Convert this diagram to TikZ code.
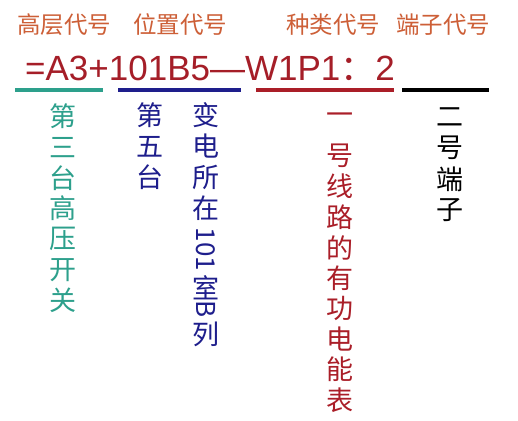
\documentclass[tikz,border=0pt]{standalone}
\usepackage{fontspec}
\setmainfont{Liberation Sans}
\newfontfamily\cjk{Noto Sans CJK SC}
\definecolor{hdr}{RGB}{205,95,55}
\definecolor{frm}{RGB}{165,30,40}
\definecolor{tealc}{RGB}{45,160,140}
\definecolor{navyc}{RGB}{30,30,140}
\definecolor{redc}{RGB}{170,30,40}
\tikzset{
  hdrtxt/.style={text=hdr, font=\cjk\fontsize{23.5}{26}\selectfont, inner sep=0pt},
  vch/.style={font=\cjk\fontsize{27}{30}\selectfont, inner sep=0pt},
  uline/.style={line width=3.5pt},
}
\begin{document}
\begin{tikzpicture}[x=1pt,y=-1pt]
\useasboundingbox[fill=white] (0,0) rectangle (518,420);
% headers
\node[hdrtxt] (h1) at (64,25) {高层代号};
\node[hdrtxt] (h2) at (180,25) {位置代号};
\node[hdrtxt] (h3) at (333,25) {种类代号};
\node[hdrtxt] (h4) at (443,25) {端子代号};
% formula
\node[anchor=base west, inner sep=0pt, text=frm, font=\fontsize{35}{37}\selectfont] (f) at (25,80) {=A3+101B5—W1P1{\cjk ：}2};
% underlines
\coordinate (u1a) at (15,90); \coordinate (u1b) at (103,90);
\coordinate (u2a) at (118,90); \coordinate (u2b) at (241,90);
\coordinate (u3a) at (256,90); \coordinate (u3b) at (394,90);
\coordinate (u4a) at (402,90); \coordinate (u4b) at (489,90);
\draw[uline, tealc] (u1a) -- (u1b);
\draw[uline, navyc] (u2a) -- (u2b);
\draw[uline, redc] (u3a) -- (u3b);
\draw[uline, black] (u4a) -- (u4b);
% teal column
\foreach \c [count=\i from 0] in {第,三,台,高,压,开,关}
  \node[vch, text=tealc] (t\i) at (63,116.5+30.7*\i) {\c};
% navy left column
\foreach \c [count=\i from 0] in {第,五,台}
  \node[vch, text=navyc] (nl\i) at (150,115.5+31*\i) {\c};
% navy right column
\foreach \c [count=\i from 0] in {变,电,所,在}
  \node[vch, text=navyc] (nr\i) at (206,115.5+31*\i) {\c};
\node[vch, text=navyc, font=\cjk\fontsize{26}{28}\selectfont, rotate=-90] (nr4) at (206,249.5) {101};
\node[vch, text=navyc] (nr5) at (206,287.5) {室};
\node[vch, text=navyc, font=\cjk\fontsize{26}{28}\selectfont, rotate=-90] (nr6) at (206,309.5) {B};
\node[vch, text=navyc] (nr7) at (206,334.5) {列};
% red column
\node[vch, text=redc] (r0) at (340,119) {一};
\foreach \c [count=\i from 0] in {号,线,路,的,有,功,电,能,表}
  \node[vch, text=redc] (r\the\numexpr\i+1\relax) at (340,156+30.5*\i) {\c};
% black column
\foreach \c [count=\i from 0] in {二,号,端,子}
  \node[vch, text=black] (b\i) at (450,117+31*\i) {\c};
\end{tikzpicture}
\end{document}
